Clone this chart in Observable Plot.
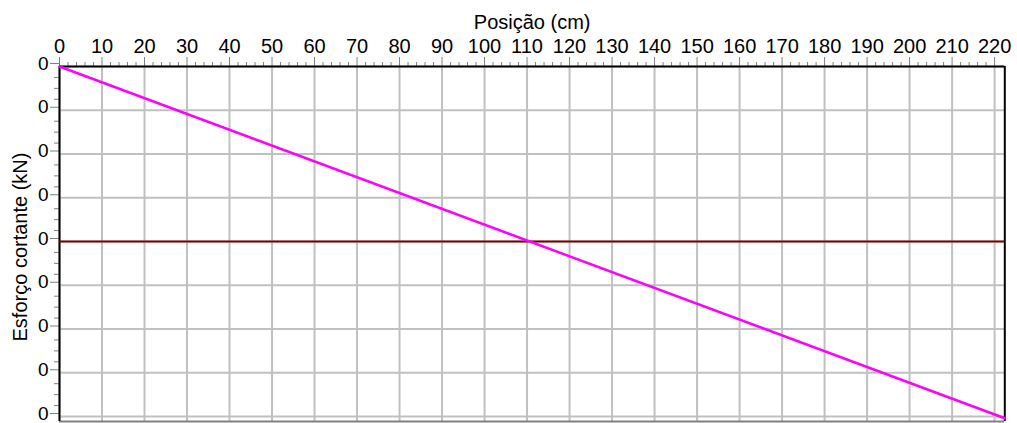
<!DOCTYPE html>
<html>
<head>
<meta charset="utf-8">
<script src="https://cdn.jsdelivr.net/npm/d3@7"></script>
<script src="https://cdn.jsdelivr.net/npm/@observablehq/plot@0.6"></script>
<style>
  html, body { margin: 0; padding: 0; background: #fff; }
  #chart svg { display: block; }
</style>
</head>
<body>
<div id="chart"></div>
<script>
// Data
const positions = [0, 222.4];          // cm
const shear = [0.4, -0.404];           // kN
const zeroLine = [0];
const xTickValues = [0,10,20,30,40,50,60,70,80,90,100,110,120,130,140,150,160,170,180,190,200,210,220];
const yTickValues = [0.4,0.3,0.2,0.1,0,-0.1,-0.2,-0.3,-0.4];
const yTickLabels = ["0","0","0","0","0","0","0","0","0"];
const xTitle = "Posição (cm)";
const yTitle = "Esforço cortante (kN)";

const xDomain = [0, 222.4];
const yDomain = [-0.4114, 0.4];

const lineData = positions.map((p, i) => ({x: p, y: shear[i]}));
const xMinor = d3.range(0, 222, 2).filter(v => v % 10 !== 0);
const yMinor = d3.range(-16, 17).map(k => k * 0.025).filter(v => Math.abs(Math.round(v * 40)) % 4 !== 0);
const yLabelMap = new Map(yTickValues.map((v, i) => [v, yTickLabels[i]]));

const font = "'Liberation Sans', Arial, sans-serif";

const chart = Plot.plot({
  width: 1017,
  height: 423,
  marginLeft: 59,
  marginRight: 12.7,
  marginTop: 66,
  marginBottom: 2,
  style: {fontFamily: font, fontSize: "20px", color: "#000", background: "#fff"},
  x: {domain: xDomain},
  y: {domain: yDomain},
  marks: [
    Plot.gridX(xTickValues, {stroke: "#c0c0c0", strokeOpacity: 1, strokeWidth: 2}),
    Plot.gridY(yTickValues, {stroke: "#c0c0c0", strokeOpacity: 1, strokeWidth: 2}),
    // minor ticks
    Plot.axisX(xMinor, {anchor: "top", tickSize: 5, text: null, stroke: "#808080", strokeWidth: 1, label: null}),
    Plot.axisY(yMinor, {anchor: "left", tickSize: 5, text: null, stroke: "#808080", strokeWidth: 1, label: null}),
    // major ticks
    Plot.axisX(xTickValues, {anchor: "top", tickSize: 10, tickPadding: 4, stroke: "#808080", strokeWidth: 1, fill: "#000", fontSize: 20, label: null}),
    Plot.axisY(yTickValues, {anchor: "left", tickSize: 9, tickPadding: 2, stroke: "#808080", strokeWidth: 1, fill: "#000", fontSize: 19, label: null, dy: -3, tickFormat: d => yLabelMap.get(d) ?? "0"}),
    // frame
    Plot.ruleY([yDomain[0]], {stroke: "#808080", strokeWidth: 2}),
    Plot.ruleY([yDomain[1]], {stroke: "#000", strokeWidth: 2}),
    Plot.ruleX([xDomain[0]], {stroke: "#000", strokeWidth: 2}),
    Plot.ruleX([xDomain[1]], {stroke: "#000", strokeWidth: 2}),
    // data
    Plot.ruleY(zeroLine, {stroke: "#800000", strokeWidth: 2}),
    Plot.line(lineData, {x: "x", y: "y", stroke: "#ff00ff", strokeWidth: 2.5}),
    // titles
    Plot.text([xTitle], {frameAnchor: "top", dy: -52, fontSize: 20, fill: "#000", textAnchor: "middle"}),
    Plot.text([yTitle], {frameAnchor: "left", dx: -39, dy: 3, rotate: -90, fontSize: 20, fill: "#000", textAnchor: "middle"})
  ]
});
document.getElementById("chart").appendChild(chart);
</script>
</body>
</html>
